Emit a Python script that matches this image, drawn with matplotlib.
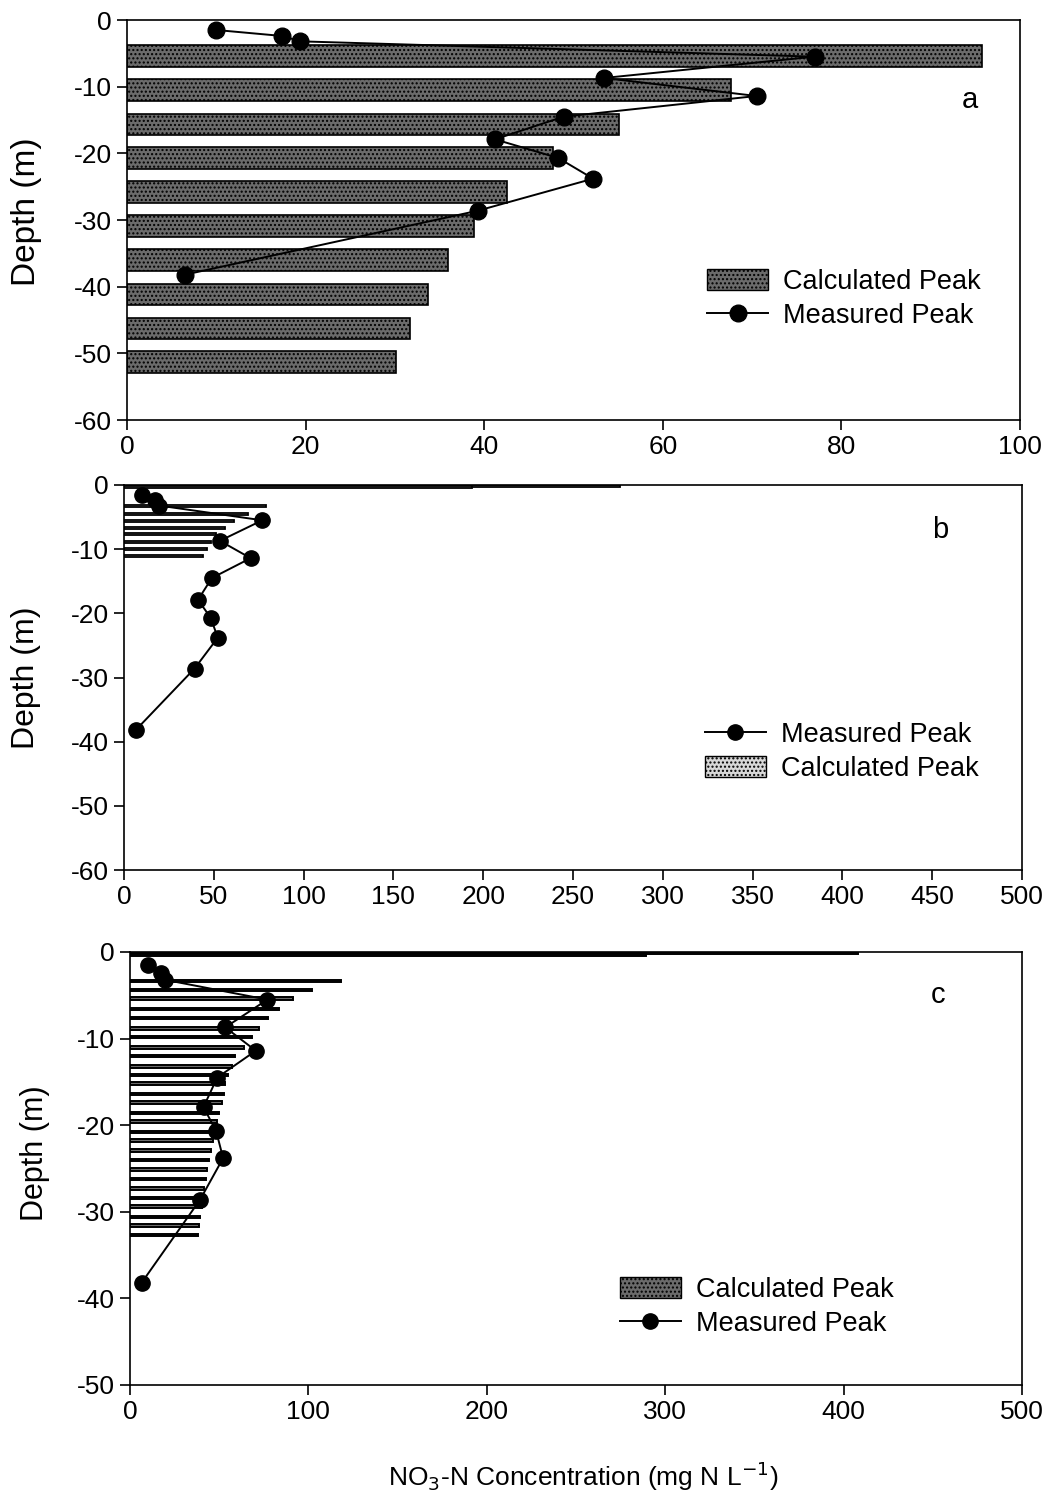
import matplotlib
matplotlib.use("Agg")
import matplotlib.pyplot as plt
import numpy as np
from matplotlib.patches import Patch
from matplotlib.lines import Line2D

plt.rcParams['font.family'] = ['Liberation Sans', 'DejaVu Sans']
plt.rcParams['axes.unicode_minus'] = False

# Measured NO3-N peak concentrations (mg N/L) and their depths (m)
meas_conc = [10.0, 17.4, 19.4, 77.0, 53.4, 70.5, 48.9, 41.2, 48.3, 52.2, 39.3, 6.5]
meas_depth = [-1.5, -2.4, -3.2, -5.5, -8.7, -11.4, -14.5, -17.9, -20.7, -23.8, -28.6, -38.2]

# Panel a: calculated peaks at coarse depth steps
calc_a_depth = [-5.4, -10.5, -15.7, -20.7, -25.8, -30.9, -36.0, -41.2, -46.3, -51.3]
calc_a_conc = [95.8, 67.6, 55.1, 47.7, 42.5, 38.9, 35.9, 33.7, 31.7, 30.1]

# Panel b: calculated peaks at fine depth steps
calc_b_depth = [-0.1, -0.35, -3.3, -4.5, -5.6, -6.7, -7.6, -8.9, -10.0, -11.1]
calc_b_conc = [276, 194, 79, 69, 61.5, 56.4, 51, 48.5, 46, 43.8]

# Panel c: calculated peaks at fine depth steps
calc_c_depth = [-0.1, -0.35, -3.35, -4.4, -5.4, -6.6, -7.6, -8.8, -9.8, -11.0, -12.0, -13.2,
                -14.2, -15.2, -16.4, -17.4, -18.6, -19.6, -20.8, -21.8, -22.9, -24.0,
                -25.1, -26.2, -27.3, -28.4, -29.4, -30.6, -31.6, -32.7]
calc_c_conc = [408, 289, 118, 102, 91.5, 83.6, 77.5, 72.4, 68.2, 64, 59, 57, 55, 53, 52.7,
               51.4, 50, 48.9, 47.6, 46.7, 45.4, 44.4, 43.3, 42.6, 41.5, 40.8, 40.2, 39.3,
               38.7, 37.9]

TICK_FS = 19
LEG_FS = 19.5
YLAB_FS = 23
DARK = '#6b6b6b'
LIGHT = '#d8d8d8'

fig = plt.figure(figsize=(10.62, 14.98), dpi=100)

ax_a = fig.add_axes([127/1062, 1-420/1498, 893/1062, 400/1498])
ax_b = fig.add_axes([124/1062, 1-870/1498, 898/1062, 385/1498])
ax_c = fig.add_axes([130/1062, 1-1385/1498, 892/1062, 433/1498])


def style(ax, xmax, xstep, ymin):
    ax.set_xlim(0, xmax)
    ax.set_ylim(ymin, 0)
    ax.set_xticks(np.arange(0, xmax + 1, xstep))
    ax.set_yticks(np.arange(ymin, 1, 10))
    ax.tick_params(direction='out', length=7, width=1.2, labelsize=TICK_FS, pad=4)
    for s in ax.spines.values():
        s.set_linewidth(1.2)


def measured(ax, ms):
    ax.plot(meas_conc, meas_depth, color='black', lw=1.4, marker='o', ms=ms,
            mfc='black', mec='black', zorder=5, clip_on=False)


def add_legend(ax, handles, labels, anchor):
    ax.legend(handles, labels, loc='upper left', bbox_to_anchor=anchor, frameon=False,
              fontsize=LEG_FS, handlelength=2.25, handleheight=0.8, handletextpad=0.55,
              labelspacing=0.3, borderpad=0, borderaxespad=0)


h_calc_dark = Patch(facecolor=DARK, edgecolor='black', hatch='....', lw=1.0)
h_calc_light = Patch(facecolor=LIGHT, edgecolor='black', hatch='....', lw=1.0)
h_meas = Line2D([], [], color='black', lw=1.4, marker='o', ms=12)
h_meas_s = Line2D([], [], color='black', lw=1.4, marker='o', ms=11)

# Panel a
ax_a.barh(calc_a_depth, calc_a_conc, height=3.2, color=DARK, edgecolor='black',
          lw=1.2, hatch='....', zorder=2)
measured(ax_a, 12)
style(ax_a, 100, 20, -60)
ax_a.set_ylabel('Depth (m)', fontsize=YLAB_FS + 1)
ax_a.yaxis.set_label_coords(-0.095, 0.52)
ax_a.text(0.944, 0.80, 'a', transform=ax_a.transAxes, fontsize=21, ha='center', va='center')
add_legend(ax_a, [h_calc_dark, h_meas], ['Calculated Peak', 'Measured Peak'], (0.65, 0.378))

# Panel b
ax_b.barh(calc_b_depth, calc_b_conc, height=0.35, color=LIGHT, edgecolor='black',
          lw=1.3, zorder=2)
measured(ax_b, 11)
style(ax_b, 500, 50, -60)
ax_b.set_ylabel('Depth (m)', fontsize=YLAB_FS)
ax_b.yaxis.set_label_coords(-0.092, 0.5)
ax_b.text(0.909, 0.883, 'b', transform=ax_b.transAxes, fontsize=21, ha='center', va='center')
add_legend(ax_b, [h_meas_s, h_calc_light], ['Measured Peak', 'Calculated Peak'], (0.647, 0.385))

# Panel c
ax_c.barh(calc_c_depth, calc_c_conc, height=0.3, color=DARK, edgecolor='black',
          lw=1.4, zorder=2)
measured(ax_c, 11)
style(ax_c, 500, 100, -50)
ax_c.set_ylabel('Depth (m)', fontsize=YLAB_FS - 1)
ax_c.yaxis.set_label_coords(-0.09, 0.535)
ax_c.text(0.906, 0.90, 'c', transform=ax_c.transAxes, fontsize=21, ha='center', va='center')
add_legend(ax_c, [h_calc_dark, h_meas_s], ['Calculated Peak', 'Measured Peak'], (0.549, 0.25))

fig.text(583/1062, 1-1476/1498, r'NO$_3$-N Concentration (mg N L$^{-1}$)',
         fontsize=19, ha='center', va='center')

fig.savefig('out.png', dpi=100)
